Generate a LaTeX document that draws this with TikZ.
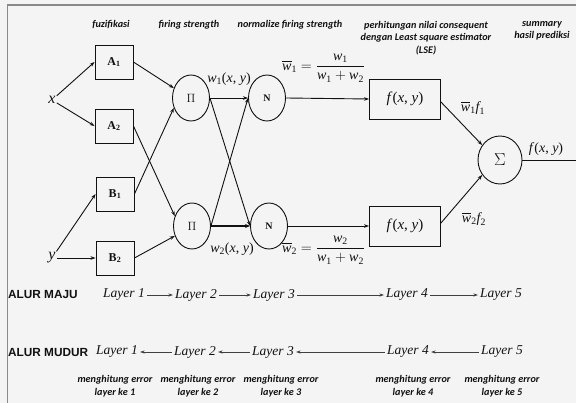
\documentclass[tikz,border=0pt]{standalone}
\usepackage{fontspec}
\usepackage{amsmath}
\setmainfont{Liberation Serif}
\newfontfamily\capfont{Carlito}
\newfontfamily\headfont{Liberation Sans}
\usetikzlibrary{shapes.geometric,arrows.meta}
\definecolor{paper}{HTML}{F4F4F4}
\definecolor{frame}{HTML}{8A8A8A}
\definecolor{ink}{HTML}{111111}
\newcommand\wi{\textit{w}}
\newcommand\sub[1]{_{\text{#1}}}
\newcommand\fxy{\textit{f}(\textit{x}, \textit{y})}

\begin{document}
\begin{tikzpicture}[x=1pt,y=-1pt,
  every node/.style={inner sep=1pt, text=ink},
  box/.style={draw=ink, line width=0.9pt, minimum width=38pt, minimum height=34pt,
    font=\fontsize{12}{14}\selectfont\bfseries},
  oval/.style={ellipse, draw=ink, line width=0.9pt, minimum width=37pt,
    minimum height=46pt, inner sep=0pt},
  fbox/.style={draw=ink, line width=0.9pt, minimum width=71pt, minimum height=40pt,
    font=\fontsize{15}{17}\selectfont},
  wire/.style={draw=ink, line width=0.9pt},
  arr/.style={wire, -{Stealth[length=5pt,width=3.5pt]}},
  caption/.style={font=\capfont\bfseries\itshape\fontsize{10.2}{12.5}\selectfont, align=center},
  layer/.style={font=\itshape\fontsize{13.5}{15}\selectfont, inner sep=2pt},
  flow/.style={font=\headfont\bfseries\fontsize{11.8}{13}\selectfont, anchor=west, inner sep=0pt},
  larr/.style={draw=black!75, line width=0.5pt, -{Stealth[length=4.5pt,width=3pt]}},
  lbl/.style={font=\fontsize{14}{16}\selectfont}]

% page and frame
\fill[paper] (0,0) rectangle (576,403);
\useasboundingbox (0,0) rectangle (576,403);
\draw[frame, line width=1.6pt] (7.5,403) -- (7.5,5) -- (576,5);

% column headings
\node[caption] (h1) at (111,25) {fuzifikasi};
\node[caption] (h2) at (189,25) {firing strength};
\node[caption] (h3) at (290,25) {normalize firing strength};
\node[caption] (h4) at (426,38) {perhitungan nilai consequent\\dengan Least square estimator\\(LSE)};
\node[caption] (h5) at (542,31) {summary\\hasil prediksi};

% inputs
\node[font=\itshape\fontsize{16}{18}\selectfont] (x) at (52,100) {x};
\node[font=\itshape\fontsize{16}{18}\selectfont] (y) at (52,258) {y};

% layer 1: membership functions
\node[box] (A1) at (114,62) {A\textsubscript{1}};
\node[box] (A2) at (114,126) {A\textsubscript{2}};
\node[box] (B1) at (115,194) {B\textsubscript{1}};
\node[box] (B2) at (115,258) {B\textsubscript{2}};

% layer 2 and 3
\node[oval, font=\fontsize{13}{15}\selectfont] (P1) at (191,98) {$\Pi$};
\node[oval, font=\fontsize{13}{15}\selectfont] (P2) at (192,226) {$\Pi$};
\node[oval, font=\fontsize{10}{12}\selectfont\bfseries] (N1) at (267,98) {N};
\node[oval, font=\fontsize{10}{12}\selectfont\bfseries] (N2) at (269,226) {N};

% layer 4 and 5
\node[fbox] (F1) at (405,99) {\fxy};
\node[fbox] (F2) at (405,226) {\fxy};
\node[ellipse, draw=ink, line width=0.9pt, minimum width=44pt, minimum height=48pt,
  inner sep=0pt, font=\fontsize{17}{19}\selectfont] (S) at (500,160) {$\Sigma$};
\coordinate (out) at (576,160);

% connections
\draw[arr] (x) -- (A1.west);
\draw[arr] (x) -- (A2.west);
\draw[arr] (y) -- (B1.west);
\draw[arr] (y) -- (B2.west);
\draw[arr] (A1.east) -- (P1.150);
\draw[arr] (A2.east) -- (P2.150);
\draw[arr] (B1.east) -- (P1.210);
\draw[arr] (B2.east) -- (P2.210);
\draw[arr] (P1.east) -- (N1.west);
\draw[arr] (P1.east) -- (N2.west);
\draw[arr] (P2.east) -- (N1.west);
\draw[wire, line width=1.8pt, -{Stealth[length=5pt,width=4pt]}] (P2.east) -- (N2.west);
\draw[arr] (N1.east) -- (F1.west);
\draw[arr] (N2.east) -- (F2.west);
\draw[arr] ([yshift=-3pt]F1.east) -- (S.140);
\draw[arr] ([yshift=3pt]F2.east) -- (S.220);
\draw[wire] (S.east) -- (out);

% signal labels
\node[lbl] (w1) at (229,79) {\wi\textsubscript{1}(\textit{x}, \textit{y})};
\node[lbl] (w2) at (232,249) {\wi\textsubscript{2}(\textit{x}, \textit{y})};
\node[lbl, anchor=west] (e1) at (281,68)
  {$\overline{\wi}\sub{1}=\dfrac{\wi\sub{1}}{\wi\sub{1}+\wi\sub{2}}$};
\node[lbl, anchor=west] (e2) at (281,250)
  {$\overline{\wi}\sub{2}=\dfrac{\wi\sub{2}}{\wi\sub{1}+\wi\sub{2}}$};
\node[lbl] (wf1) at (473,108) {$\overline{\wi}\sub{1}\textit{f}\sub{1}$};
\node[lbl] (wf2) at (474,219) {$\overline{\wi}\sub{2}\textit{f}\sub{2}$};
\node[lbl] (fo) at (546,149) {\fxy};

% forward pass
\node[flow] (maju) at (8,294) {ALUR MAJU};
\node[layer] (L1) at (124,295) {Layer 1};
\node[layer] (L2) at (196,295) {Layer 2};
\node[layer] (L3) at (274,295) {Layer 3};
\node[layer] (L4) at (407,295) {Layer 4};
\node[layer] (L5) at (501,295) {Layer 5};
\draw[larr] (L1) -- (L2);
\draw[larr] (L2) -- (L3);
\draw[larr] (L3) -- (L4);
\draw[larr] (L4) -- (L5);

% backward pass
\node[flow] (mudur) at (8,352) {ALUR MUDUR};
\node[layer] (M1) at (117,352) {Layer 1};
\node[layer] (M2) at (195,352) {Layer 2};
\node[layer] (M3) at (273,352) {Layer 3};
\node[layer] (M4) at (408,352) {Layer 4};
\node[layer] (M5) at (502,352) {Layer 5};
\draw[larr] (M2) -- (M1);
\draw[larr] (M3) -- (M2);
\draw[larr] (M4) -- (M3);
\draw[larr] (M5) -- (M4);

% error notes
\node[caption] (n1) at (115,386) {menghitung error\\layer ke 1};
\node[caption] (n2) at (198,386) {menghitung error\\layer ke 2};
\node[caption] (n3) at (281,386) {menghitung error\\layer ke 3};
\node[caption] (n4) at (413,386) {menghitung error\\layer ke 4};
\node[caption] (n5) at (502,386) {menghitung error\\layer ke 5};
\end{tikzpicture}
\end{document}
